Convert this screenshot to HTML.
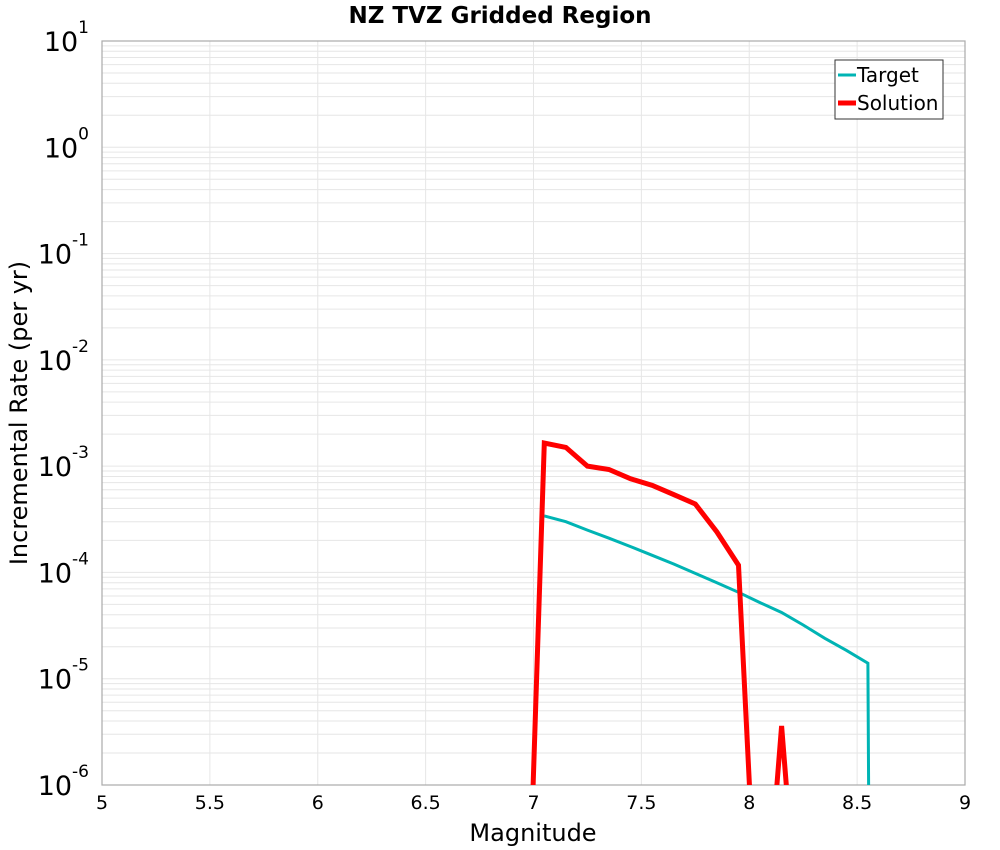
<!DOCTYPE html>
<html><head><meta charset="utf-8"><style>
html,body{margin:0;background:#fff;font-family:"DejaVu Sans","Liberation Sans",sans-serif;width:1000px;height:850px;overflow:hidden}
svg{display:block}
</style></head><body>
<svg id="c" width="1000" height="850" xmlns="http://www.w3.org/2000/svg">
<text x="500" y="23" text-anchor="middle" font-weight="bold" font-size="23">NZ TVZ Gridded Region</text>
<g id="grid"></g>
<rect x="102" y="41" width="863" height="744" fill="none" stroke="#aaa" stroke-width="1.2"/>
<g id="ticks"></g>
<defs><clipPath id="clip"><rect x="102" y="41" width="863" height="744"/></clipPath></defs>
<g id="series" clip-path="url(#clip)"></g>
<text x="533" y="841" text-anchor="middle" font-size="24">Magnitude</text>
<text transform="translate(27,413) rotate(-90)" text-anchor="middle" font-size="24">Incremental Rate (per yr)</text>
<g>
<rect x="835" y="60" width="108" height="59" fill="#fff" stroke="#333" stroke-width="1"/>
<line x1="838" y1="75" x2="856" y2="75" stroke="#00b4b4" stroke-width="3"/>
<text x="857" y="82" font-size="20">Target</text>
<line x1="838" y1="103" x2="856" y2="103" stroke="#ff0000" stroke-width="5"/>
<text x="857" y="110" font-size="20">Solution</text>
</g>
</svg>
<script>
const targetMags=[7.05,7.15,7.25,7.35,7.45,7.55,7.65,7.75,7.85,7.95,8.05,8.15,8.25,8.35,8.45,8.55,8.65];
const targetRates=[3.4e-4,3.0e-4,2.5e-4,2.1e-4,1.75e-4,1.45e-4,1.2e-4,9.8e-5,8.0e-5,6.5e-5,5.2e-5,4.2e-5,3.2e-5,2.4e-5,1.85e-5,1.4e-5,1e-40];
const solMags=[6.95,7.05,7.15,7.25,7.35,7.45,7.55,7.65,7.75,7.85,7.95,8.05,8.15,8.25];
const solRates=[1e-9,1.65e-3,1.5e-3,1.0e-3,9.3e-4,7.6e-4,6.6e-4,5.4e-4,4.4e-4,2.4e-4,1.17e-4,1e-8,3.6e-6,1e-8];
const xTicks=[5,5.5,6,6.5,7,7.5,8,8.5,9];
const yExps=[-6,-5,-4,-3,-2,-1,0,1];
const NS="http://www.w3.org/2000/svg";
const X=v=>102+(v-5)/4*863;
const Y=v=>785-(Math.log10(v)+6)/7*744;
function mk(t,a,p){const e=document.createElementNS(NS,t);for(const k in a)e.setAttribute(k,a[k]);p.appendChild(e);return e;}
const grid=document.getElementById('grid'),ticks=document.getElementById('ticks'),ser=document.getElementById('series');
for(let e=-6;e<1;e++)for(let m=1;m<10;m++){const y=Y(m*Math.pow(10,e));
 const l=mk('line',{x1:102,x2:965,y1:y,y2:y,stroke:'#e6e6e6','stroke-width':1},grid);
 
 }
xTicks.forEach(v=>{const x=X(v);
 const l=mk('line',{x1:x,x2:x,y1:41,y2:785,stroke:'#e6e6e6','stroke-width':1},grid);
 
 
 const t=mk('text',{x:x,y:809,'text-anchor':'middle','font-size':19},ticks);t.textContent=String(v);
 
 });
yExps.forEach(e=>{const y=Y(Math.pow(10,e));
 const t=mk('text',{x:89,y:y+10,'text-anchor':'end','font-size':27},ticks);
 
 
 t.textContent='10';
 const s=mk('tspan',{dy:-18,'font-size':17},t);s.textContent=String(e);});
function line(mags,rates,col,w,name){const d=mags.map((m,i)=>(i?'L':'M')+X(m).toFixed(1)+','+Y(rates[i]).toFixed(1)).join('');
 const p=mk('path',{d:d,fill:'none',stroke:col,'stroke-width':w,'stroke-linejoin':'miter'},ser);
 
 }
line(targetMags,targetRates,'#00b4b4',3,'target-line');
line(solMags,solRates,'#ff0000',5,'solution-line');
</script>
</body></html>
